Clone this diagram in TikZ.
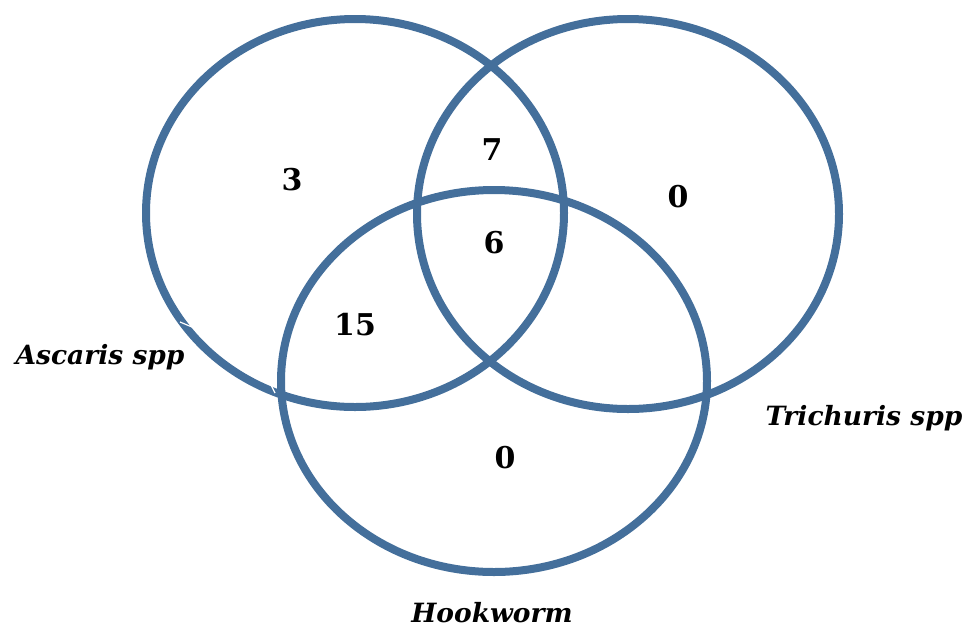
\documentclass[tikz,border=0pt]{standalone}
\usepackage{fontspec}
\setmainfont{DejaVu Serif}
\definecolor{ringblue}{RGB}{68,111,155}
\begin{document}
\begin{tikzpicture}[x=1pt,y=-1pt,
  ring/.style={draw=ringblue,line width=8pt},
  num/.style={font=\fontsize{30}{34}\selectfont\bfseries},
  setlabel/.style={font=\fontsize{26.5}{30}\selectfont\bfseries\itshape}]
\useasboundingbox (0,0) rectangle (979,630);
\draw[ring] (355,213) ellipse [x radius=209, y radius=194];
\draw[ring] (628,214) ellipse [x radius=211, y radius=195];
\draw[ring] (494,381) ellipse [x radius=213, y radius=191];
\coordinate (g1a) at (180,322); \coordinate (g1b) at (192,327);
\coordinate (g2a) at (271,385); \coordinate (g2b) at (275,393);
\draw[white,line width=1.2pt] (g1a) -- (g1b);
\draw[white,line width=1.2pt] (g2a) -- (g2b);
\node[num] (n3) at (292,180) {3};
\node[num] (n7) at (492,150) {7};
\node[num] (n0r) at (678,197) {0};
\node[num] (n6) at (494,243) {6};
\node[num] (n15) at (355,325) {15};
\node[num] (n0b) at (505,458) {0};
\node[setlabel] (asc) at (100,357) {Ascaris spp};
\node[setlabel] (tri) at (864,418) {Trichuris spp};
\node[setlabel] (hook) at (492,613) {Hookworm};
\end{tikzpicture}
\end{document}
